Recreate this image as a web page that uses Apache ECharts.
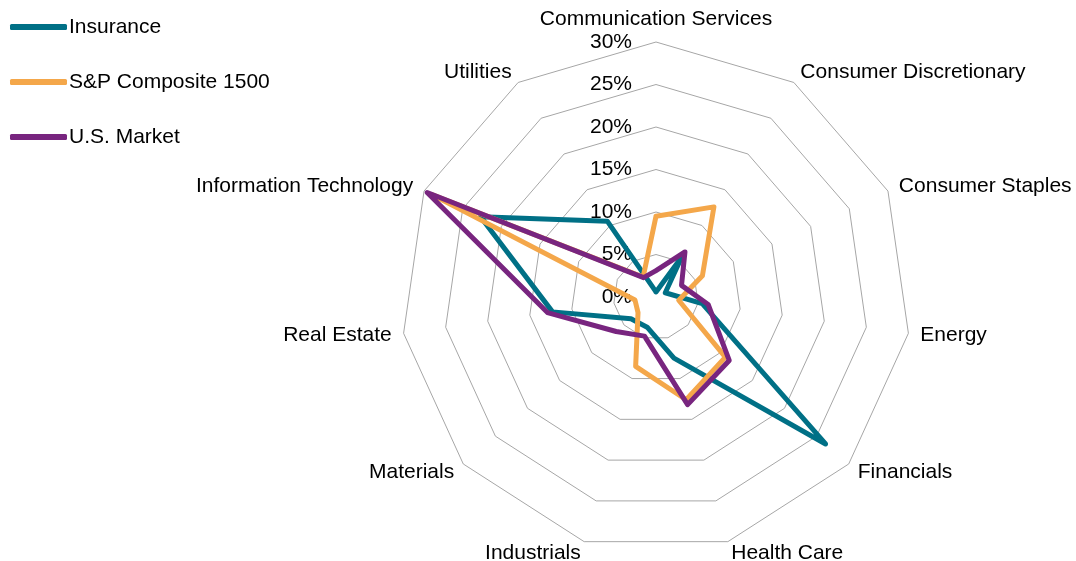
<!DOCTYPE html>
<html>
<head>
<meta charset="utf-8">
<title>Sector weights radar</title>
<script src="https://cdn.jsdelivr.net/npm/echarts@6/dist/echarts.min.js"></script>
<style>
  html, body { margin: 0; padding: 0; background: #fff; }
  #chart { width: 1076px; height: 561px; }
</style>
</head>
<body>
<div id="chart"></div>
<script>
// sectors in clockwise order, starting from the top
var sectors = ['Communication Services', 'Consumer Discretionary', 'Consumer Staples', 'Energy',
  'Financials', 'Health Care', 'Industrials', 'Materials', 'Real Estate',
  'Information Technology', 'Utilities']

// weights in %
var insurance = [0.6, 5.6, 1.2, 5.5, 26.4, 7.5, 3.7, 3.9, 12.3, 22.7, 10.6]
var sp1500 = [9.5, 12.6, 6.0, 2.7, 10.8, 12.6, 8.5, 2.8, 2.5, 29.0, 2.8]
var usMarket = [3.1, 6.3, 3.3, 6.2, 11.4, 13.2, 4.8, 6.2, 12.9, 29.6, 2.7]

var seriesNames = ['Insurance', 'S&P Composite 1500', 'U.S. Market']
var colors = ['#007086', '#F4A74A', '#78257F']

// value axis: 0% .. 30% every 5%
var axisMin = 0
var axisMax = 30
var axisStep = 5

var font = "'Liberation Sans', Arial, sans-serif"

// echarts lays indicators out counter-clockwise, the picture goes clockwise
function cw(arr) {
  return [arr[0]].concat(arr.slice(1).reverse())
}

var indicator = cw(sectors).map(function (name, i) {
  var ind = { name: name, min: axisMin, max: axisMax }
  if (i === 0) {
    // percent labels only along the top axis
    ind.axisLabel = {
      show: true,
      margin: 24,
      color: '#000',
      fontSize: 21,
      fontFamily: font,
      formatter: '{value}%'
    }
  }
  return ind
})

var values = [insurance, sp1500, usMarket]
var series = values.map(function (v, i) {
  return {
    type: 'radar',
    name: seriesNames[i],
    symbol: 'none',
    z: 2 + i,
    itemStyle: { color: colors[i] },
    lineStyle: { color: colors[i], width: 5, join: 'round', cap: 'round' },
    data: [{ name: seriesNames[i], value: cw(v) }]
  }
})

var chart = echarts.init(document.getElementById('chart'))
var option = {
  animation: false,
  color: colors,
  legend: {
    orient: 'vertical',
    left: 5,
    top: 10,
    itemWidth: 57,
    itemHeight: 6,
    itemGap: 31,
    icon: 'roundRect',
    textStyle: {
      color: '#000',
      fontSize: 21,
      fontFamily: font,
      lineHeight: 24,
      padding: [0, 0, 0, -3]
    },
    data: seriesNames
  },
  radar: {
    center: [656, 297],
    radius: 255,
    startAngle: 90,
    shape: 'polygon',
    splitNumber: (axisMax - axisMin) / axisStep,
    nameGap: 12,
    axisName: {
      color: '#000',
      fontSize: 21,
      fontFamily: font
    },
    axisLine: { show: false },
    axisTick: { show: false },
    splitArea: { show: false },
    splitLine: {
      lineStyle: { color: '#A6A6A6', width: 1 }
    },
    indicator: indicator
  },
  series: series
}
chart.setOption(option)
</script>
</body>
</html>
